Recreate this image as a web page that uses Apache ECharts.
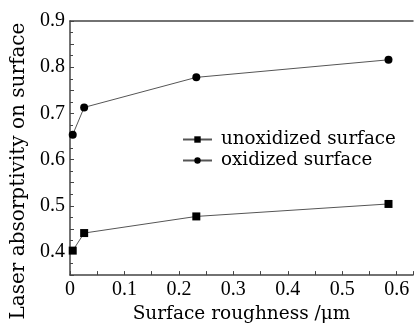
<!DOCTYPE html>
<html><head><meta charset="utf-8">
<script src="https://cdn.jsdelivr.net/npm/echarts@6/dist/echarts.min.js"></script>
<style>html,body{margin:0;padding:0;background:#fff}#c{width:417px;height:329px}</style>
</head><body><div id="c"></div>
<script>
const roughness = [0.005, 0.026, 0.232, 0.585];
const unoxidized = [0.403, 0.441, 0.477, 0.504];
const oxidized = [0.654, 0.713, 0.778, 0.816];
const seriesNames = ['unoxidized surface', 'oxidized surface'];
const xTitle = 'Surface roughness /\u03bcm';
const yTitle = 'Laser absorptivity on surface';

const TICKFONT = 'Liberation Serif';
const TITLEFONT = 'DejaVu Serif';
const isTenth = v => Math.abs(v * 10 - Math.round(v * 10)) < 1e-6;
const chart = echarts.init(document.getElementById('c'));
const axisCol = '#444';
chart.setOption({
  animation: false,
  grid: { left: 70, right: 4, top: 21, bottom: 47 },
  legend: {
    orient: 'vertical', left: 182, top: 130, padding: 0,
    itemWidth: 29, itemHeight: 8, itemGap: 2,
    textStyle: { fontFamily: TITLEFONT, fontSize: 18.3, lineHeight: 19, color: '#000', padding: [0, 0, 0, 4] },
    data: seriesNames
  },
  xAxis: [{
    type: 'value', min: 0, max: 0.63, interval: 0.05,
    name: xTitle, nameLocation: 'middle', nameGap: 29,
    nameTextStyle: { fontFamily: TITLEFONT, fontSize: 18.5, color: '#000' },
    axisLine: { lineStyle: { color: axisCol, width: 1.5 } },
    axisTick: { inside: true, length: 4, lineStyle: { color: axisCol } },
    axisLabel: { fontFamily: TICKFONT, fontSize: 20, color: '#000', margin: 5,
      formatter: v => isTenth(v) ? (v === 0 ? '0' : v.toFixed(1)) : '' },
    splitLine: { show: false }
  }, {
    type: 'value', position: 'top', min: 0, max: 0.63,
    axisLine: { show: true, lineStyle: { color: axisCol, width: 1.5 } },
    axisTick: { show: false }, axisLabel: { show: false }, splitLine: { show: false }
  }],
  yAxis: {
    type: 'value', min: 0.35, max: 0.9, interval: 0.05,
    name: yTitle, nameLocation: 'middle', nameGap: 37,
    nameTextStyle: { fontFamily: TITLEFONT, fontSize: 20, color: '#000', padding: [0, 46, 0, 0] },
    axisLine: { show: true, lineStyle: { color: axisCol, width: 1.5 } },
    axisTick: { inside: true, length: 4, lineStyle: { color: axisCol } },
    minorTick: { show: true, splitNumber: 2, length: 3, lineStyle: { color: axisCol } },
    axisLabel: { fontFamily: TICKFONT, fontSize: 20, color: '#000', margin: 5,
      formatter: v => isTenth(v) ? v.toFixed(1) : '' },
    splitLine: { show: false }
  },
  series: [{
    name: seriesNames[0], type: 'line',
    data: roughness.map((x, i) => [x, unoxidized[i]]),
    symbol: 'rect', symbolSize: 8,
    lineStyle: { color: '#555', width: 1 },
    itemStyle: { color: '#000' }
  }, {
    name: seriesNames[1], type: 'line',
    data: roughness.map((x, i) => [x, oxidized[i]]),
    symbol: 'circle', symbolSize: 8,
    lineStyle: { color: '#555', width: 1 },
    itemStyle: { color: '#000' }
  }]
});
</script></body></html>
